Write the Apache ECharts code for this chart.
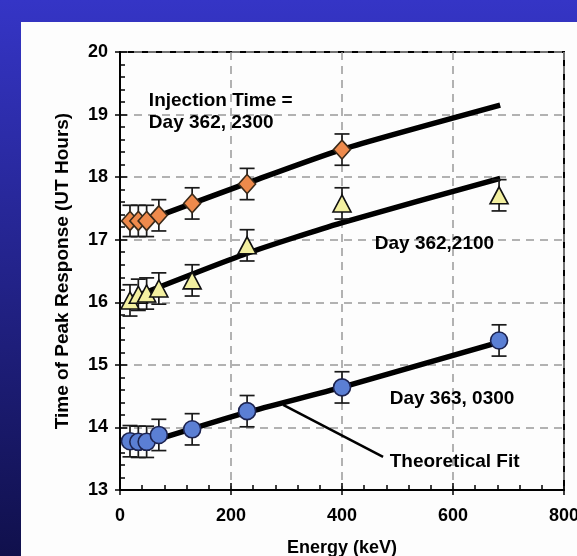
<!DOCTYPE html>
<html><head><meta charset="utf-8">
<script src="https://cdn.jsdelivr.net/npm/echarts@6/dist/echarts.min.js"></script>
<style>html,body{margin:0;padding:0;}#c{width:577px;height:556px;}</style>
</head><body><div id="c"></div>
<script>
// ---- data ----
const energies = [18, 33, 48, 70, 130, 229, 400, 683];
const orangeY = [17.3, 17.3, 17.3, 17.39, 17.58, 17.89, 18.44];
const yellowY = [16.03, 16.12, 16.14, 16.22, 16.35, 16.91, 17.58, 17.71];
const blueY   = [13.78, 13.77, 13.77, 13.88, 13.97, 14.26, 14.64, 15.39];
const errHalf = 0.25;
const fitOrangeX = [72, 228, 399, 685];
const fitOrangeY = [17.39, 17.9, 18.44, 19.15];
const fitYellowX = [18, 228, 399, 685];
const fitYellowY = [16.06, 16.78, 17.27, 17.98];
const fitBlueX = [72, 228, 399, 682];
const fitBlueY = [13.82, 14.24, 14.64, 15.36];
const pointerX = [294, 474];
const pointerY = [14.36, 13.53];
const annotations = [
  ["Injection Time =\nDay 362, 2300", 52, 19.05],
  ["Day 362,2100", 459, 16.93],
  ["Day 363, 0300", 486, 14.46],
  ["Theoretical Fit", 486, 13.45]
];
const xTicks = [0, 200, 400, 600, 800];
const yTicks = [13, 14, 15, 16, 17, 18, 19, 20];

const pairs = (xs, ys) => ys.map((y, i) => [xs[i], y]);
const FONT = "'Liberation Sans', Arial, Helvetica, sans-serif";

function errSeries(ys) {
  return {
    type: 'custom', z: 3,
    data: ys.map((y, i) => [energies[i], y - errHalf, y + errHalf]),
    renderItem: function (params, api) {
      const lo = api.coord([api.value(0), api.value(1)]);
      const hi = api.coord([api.value(0), api.value(2)]);
      const w = 7.5;
      const st = { stroke: '#1a1a1a', lineWidth: 1.7 };
      return { type: 'group', children: [
        { type: 'line', shape: { x1: lo[0], y1: lo[1], x2: hi[0], y2: hi[1] }, style: st },
        { type: 'line', shape: { x1: lo[0] - w, y1: lo[1], x2: lo[0] + w, y2: lo[1] }, style: st },
        { type: 'line', shape: { x1: hi[0] - w, y1: hi[1], x2: hi[0] + w, y2: hi[1] }, style: st }
      ]};
    }
  };
}
function fitSeries(xs, ys) {
  return { type: 'line', z: 2, data: pairs(xs, ys), smooth: 0.2, symbol: 'none',
    lineStyle: { color: '#000', width: 5.5 } };
}
function markerSeries(ys, symbol, size, color, border) {
  return { type: 'scatter', z: 4, data: pairs(energies, ys), symbol: symbol, symbolSize: size,
    itemStyle: { color: color, borderColor: border, borderWidth: 1.6, opacity: 1 } };
}

const chart = echarts.init(document.getElementById('c'));
chart.setOption({
  animation: false,
  backgroundColor: { type: 'linear', x: 0, y: 0, x2: 0, y2: 1,
    colorStops: [{ offset: 0, color: '#3535c6' }, { offset: 1, color: '#10104c' }] },
  graphic: [{ type: 'rect', z: -10, shape: { x: 21, y: 22, width: 560, height: 540 },
    style: { fill: '#fdfdfd' } }],
  grid: { left: 120, right: 13, top: 52, bottom: 66, show: true, borderColor: '#000', borderWidth: 2,
    backgroundColor: 'transparent', containLabel: false, outerBoundsMode: 'none' },
  xAxis: [{
    type: 'value', min: 0, max: 800, interval: 200,
    name: 'Energy (keV)', nameLocation: 'middle', nameGap: 49,
    nameTextStyle: { fontFamily: FONT, fontWeight: 'bold', fontSize: 18, color: '#000' },
    axisLine: { lineStyle: { color: '#000', width: 2 } },
    axisTick: { inside: true, length: 7, lineStyle: { color: '#000', width: 1.5 } },
    minorTick: { show: true, splitNumber: 5, length: 5, lineStyle: { color: '#000', width: 1.5 } },
    axisLabel: { fontFamily: FONT, fontWeight: 'bold', fontSize: 18, color: '#000', margin: 17,
      formatter: v => xTicks.includes(v) ? String(v) : '' },
    splitLine: { show: true, lineStyle: { color: '#999', type: [8, 6], width: 1.5 } }
  }, {
    type: 'value', min: 0, max: 800, interval: 200, position: 'bottom', gridIndex: 0,
    axisLine: { show: false }, axisLabel: { show: false }, splitLine: { show: false },
    axisTick: { inside: false, length: 5, lineStyle: { color: '#000', width: 1.5 } }
  }],
  yAxis: [{
    type: 'value', min: 13, max: 20, interval: 1,
    name: 'Time of Peak Response (UT Hours)', nameLocation: 'middle', nameGap: 48,
    nameTextStyle: { fontFamily: FONT, fontWeight: 'bold', fontSize: 19, color: '#000' },
    axisLine: { lineStyle: { color: '#000', width: 2 } },
    axisTick: { inside: true, length: 7, lineStyle: { color: '#000', width: 1.5 } },
    minorTick: { show: true, splitNumber: 5, length: 5, lineStyle: { color: '#000', width: 1.5 } },
    axisLabel: { fontFamily: FONT, fontWeight: 'bold', fontSize: 18, color: '#000', margin: 12,
      formatter: v => yTicks.includes(v) ? String(v) : '' },
    splitLine: { show: true, lineStyle: { color: '#999', type: [8, 6], width: 1.5 } }
  }, {
    type: 'value', min: 13, max: 20, interval: 1, position: 'left',
    axisLine: { show: false }, axisLabel: { show: false }, splitLine: { show: false },
    axisTick: { inside: false, length: 5, lineStyle: { color: '#000', width: 1.5 } }
  }],
  series: [
    fitSeries(fitOrangeX, fitOrangeY),
    fitSeries(fitYellowX, fitYellowY),
    fitSeries(fitBlueX, fitBlueY),
    { type: 'line', z: 2, data: pairs(pointerX, pointerY), symbol: 'none',
      lineStyle: { color: '#000', width: 2.5 } },
    errSeries(orangeY), errSeries(yellowY), errSeries(blueY),
    markerSeries(orangeY, 'diamond', [17, 19], '#ee8a4c', '#3a2a1a'),
    markerSeries(yellowY, 'triangle', [18, 17], '#f3f0a0', '#111'),
    markerSeries(blueY, 'circle', 17, '#5b7fd4', '#1c2350'),
    { type: 'scatter', z: 5, symbolSize: 0, silent: true, itemStyle: { opacity: 1 },
      data: annotations.map(a => ({ value: [a[1], a[2]], name: a[0] })),
      label: { show: true, position: [0, 0], align: 'left', verticalAlign: 'middle',
        formatter: p => p.name, fontFamily: FONT, fontWeight: 'bold', fontSize: 19,
        color: '#000', opacity: 1, lineHeight: 22 } }
  ]
});
</script></body></html>
